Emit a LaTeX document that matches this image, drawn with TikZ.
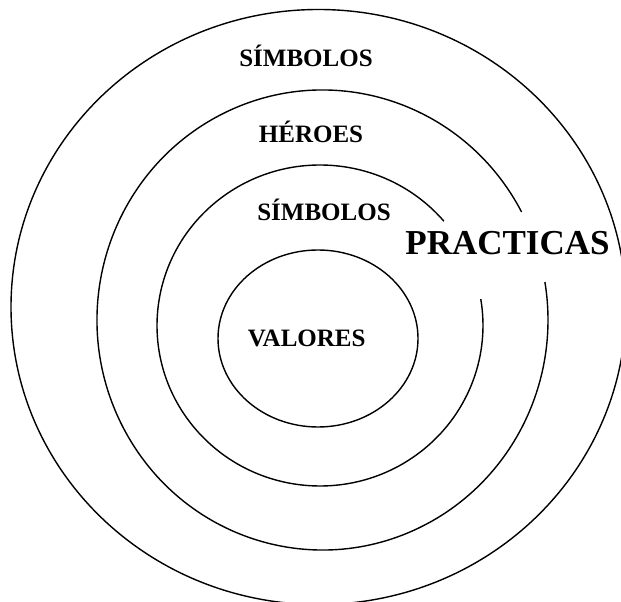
\documentclass[tikz,border=0pt]{standalone}
\usepackage{fontspec}
\setmainfont{Liberation Serif}
\usetikzlibrary{calc}
\begin{document}
\begin{tikzpicture}[x=1pt,y=1pt,
  ring/.style={line width=1.4pt, black},
  lbl/.style={anchor=base, inner sep=0pt, font=\fontsize{25}{30}\selectfont\bfseries},
  biglbl/.style={anchor=base, inner sep=0pt, font=\fontsize{35}{42}\selectfont\bfseries}]
\useasboundingbox (0,0) rectangle (621,602);
% outer ring
\draw[ring] (318.5,295) ellipse[x radius=307.5, y radius=297.5];
% second ring (gap at PRACTICAS)
\draw[ring] ($(322.5,282)+(28:225.5 and 230)$) arc[start angle=28, end angle=369.5, x radius=225.5, y radius=230];
% third ring (gap at PRACTICAS)
\draw[ring] ($(320,276.5)+(40.5:163 and 160.5)$) arc[start angle=40.5, end angle=369.5, x radius=163, y radius=160.5];
% inner ring
\draw[ring] (318,263.5) ellipse[x radius=100, y radius=88.5];
\node[lbl] (simb1) at (306,535) {SÍMBOLOS};
\node[lbl] (heroes) at (311,459.7) {HÉROES};
\node[lbl] (simb2) at (324,381.3) {SÍMBOLOS};
\node[lbl] (valores) at (306.7,255.3) {VALORES};
\node[biglbl] (practicas) at (507.5,347) {PRACTICAS};
\end{tikzpicture}
\end{document}
